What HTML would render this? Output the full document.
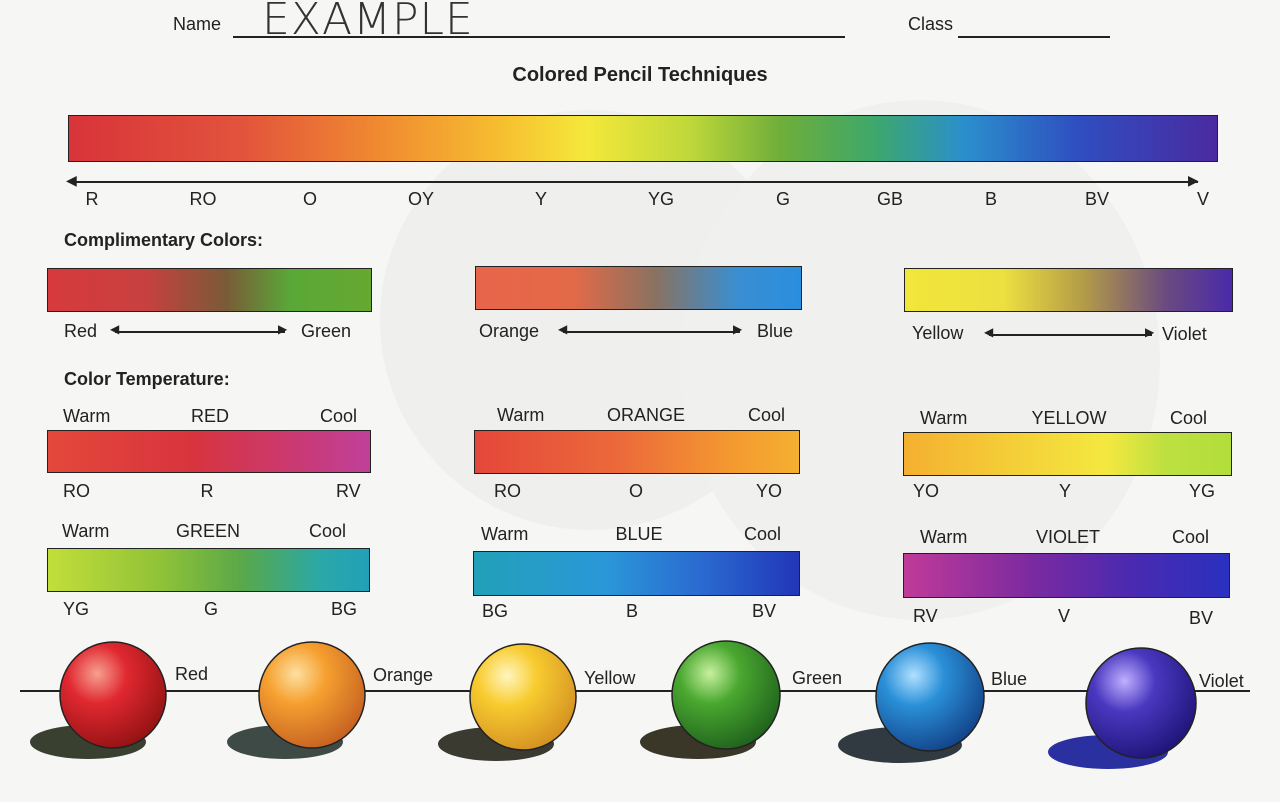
<!DOCTYPE html>
<html><head><meta charset="utf-8"><style>
body{margin:0;width:1280px;height:802px;background:#f6f6f5;position:relative;overflow:hidden;font-family:"Liberation Sans",sans-serif;color:#222}
.t{position:absolute;font-size:18px;white-space:nowrap}
.b{font-weight:bold}
.bar{position:absolute;border:1.5px solid #222;box-sizing:border-box}
.ln{position:absolute;background:#222;height:1.5px}
.c{transform:translateX(-50%)}
</style></head><body>
<div style="position:absolute;left:380px;top:110px;width:420px;height:420px;border-radius:50%;background:#efefee"></div>
<div style="position:absolute;left:680px;top:100px;width:480px;height:520px;border-radius:50%;background:#f0f0ef"></div>

<div class="t" style="left:173px;top:14px">Name</div>
<div class="ln" style="left:233px;top:36px;width:612px"></div>
<div class="t" style="left:262px;top:-6px;font-size:44px;font-family:'DejaVu Sans',sans-serif;font-weight:200;letter-spacing:1px;color:#333">EXAMPLE</div>
<div class="t" style="left:908px;top:14px">Class</div>
<div class="ln" style="left:958px;top:36px;width:152px"></div>
<div class="t b c" style="left:640px;top:64px;font-size:20px">Colored Pencil Techniques</div>

<div class="bar" style="left:68px;top:115px;width:1150px;height:47px;background:linear-gradient(90deg,#d8343a 0%,#e2533c 15%,#f08a30 27%,#f6c030 38%,#f5e83a 45%,#bfd83a 54%,#6fae3a 62%,#3ea86a 70%,#2a8fcc 78%,#2f4ec0 88%,#4a2aa0 100%)"></div>
<div class="ln" style="left:72px;top:181px;width:1126px"></div>
<div class="t" style="left:66px;top:172px;font-size:14px">◀</div>
<div class="t" style="left:1188px;top:172px;font-size:14px">▶</div>
<div class="t c" style="left:92px;top:189px">R</div>
<div class="t c" style="left:203px;top:189px">RO</div>
<div class="t c" style="left:310px;top:189px">O</div>
<div class="t c" style="left:421px;top:189px">OY</div>
<div class="t c" style="left:541px;top:189px">Y</div>
<div class="t c" style="left:661px;top:189px">YG</div>
<div class="t c" style="left:783px;top:189px">G</div>
<div class="t c" style="left:890px;top:189px">GB</div>
<div class="t c" style="left:991px;top:189px">B</div>
<div class="t c" style="left:1097px;top:189px">BV</div>
<div class="t c" style="left:1203px;top:189px">V</div>

<div class="t b" style="left:64px;top:230px">Complimentary Colors:</div>
<div class="bar" style="left:47px;top:268px;width:325px;height:44px;background:linear-gradient(90deg,#d73a3c,#c84040 30%,#7a5a38 55%,#5aa838 75%,#66a830)"></div>
<div class="bar" style="left:475px;top:266px;width:327px;height:44px;background:linear-gradient(90deg,#e8644a,#e26a48 30%,#8a7260 55%,#3a8ed0 80%,#2a8ee0)"></div>
<div class="bar" style="left:904px;top:268px;width:329px;height:44px;background:linear-gradient(90deg,#f2e63a,#ece040 30%,#b29a48 55%,#6a4a80 80%,#4a2aa8)"></div>
<div class="t" style="left:64px;top:321px">Red</div><div class="ln" style="left:115px;top:331px;width:170px"></div>
<div class="t" style="left:110px;top:322px;font-size:12px">◀</div><div class="t" style="left:278px;top:322px;font-size:12px">▶</div>
<div class="t" style="left:301px;top:321px">Green</div>
<div class="t" style="left:479px;top:321px">Orange</div><div class="ln" style="left:563px;top:331px;width:177px"></div>
<div class="t" style="left:558px;top:322px;font-size:12px">◀</div><div class="t" style="left:733px;top:322px;font-size:12px">▶</div>
<div class="t" style="left:757px;top:321px">Blue</div>
<div class="t" style="left:912px;top:323px">Yellow</div><div class="ln" style="left:989px;top:334px;width:163px"></div>
<div class="t" style="left:984px;top:325px;font-size:12px">◀</div><div class="t" style="left:1145px;top:325px;font-size:12px">▶</div>
<div class="t" style="left:1162px;top:324px">Violet</div>

<div class="t b" style="left:64px;top:369px">Color Temperature:</div>

<div class="t" style="left:63px;top:406px">Warm</div><div class="t c" style="left:210px;top:406px">RED</div><div class="t" style="left:320px;top:406px">Cool</div>
<div class="bar" style="left:47px;top:430px;width:324px;height:43px;background:linear-gradient(90deg,#e4483a,#d8343e 45%,#c83a78 80%,#c0409a)"></div>
<div class="t" style="left:63px;top:481px">RO</div><div class="t c" style="left:207px;top:481px">R</div><div class="t" style="left:336px;top:481px">RV</div>

<div class="t" style="left:497px;top:405px">Warm</div><div class="t c" style="left:646px;top:405px">ORANGE</div><div class="t" style="left:748px;top:405px">Cool</div>
<div class="bar" style="left:474px;top:430px;width:326px;height:44px;background:linear-gradient(90deg,#e4473a,#ec6a3a 45%,#f49a30 80%,#f4b030)"></div>
<div class="t" style="left:494px;top:481px">RO</div><div class="t c" style="left:636px;top:481px">O</div><div class="t" style="left:756px;top:481px">YO</div>

<div class="t" style="left:920px;top:408px">Warm</div><div class="t c" style="left:1069px;top:408px">YELLOW</div><div class="t" style="left:1170px;top:408px">Cool</div>
<div class="bar" style="left:903px;top:432px;width:329px;height:44px;background:linear-gradient(90deg,#f4b030,#f4d038 35%,#f4e840 62%,#bde040 80%,#b2de3a)"></div>
<div class="t" style="left:913px;top:481px">YO</div><div class="t c" style="left:1065px;top:481px">Y</div><div class="t" style="left:1189px;top:481px">YG</div>

<div class="t" style="left:62px;top:521px">Warm</div><div class="t c" style="left:208px;top:521px">GREEN</div><div class="t" style="left:309px;top:521px">Cool</div>
<div class="bar" style="left:47px;top:548px;width:323px;height:44px;background:linear-gradient(90deg,#c2de3a,#90c238 35%,#5aa848 60%,#2aa8a8 85%,#22a0b8)"></div>
<div class="t" style="left:63px;top:599px">YG</div><div class="t c" style="left:211px;top:599px">G</div><div class="t" style="left:331px;top:599px">BG</div>

<div class="t" style="left:481px;top:524px">Warm</div><div class="t c" style="left:639px;top:524px">BLUE</div><div class="t" style="left:744px;top:524px">Cool</div>
<div class="bar" style="left:473px;top:551px;width:327px;height:45px;background:linear-gradient(90deg,#22a0b8,#2a98d8 40%,#2a6ad0 70%,#2236b8)"></div>
<div class="t" style="left:482px;top:601px">BG</div><div class="t c" style="left:632px;top:601px">B</div><div class="t" style="left:752px;top:601px">BV</div>

<div class="t" style="left:920px;top:527px">Warm</div><div class="t c" style="left:1068px;top:527px">VIOLET</div><div class="t" style="left:1172px;top:527px">Cool</div>
<div class="bar" style="left:903px;top:553px;width:327px;height:45px;background:linear-gradient(90deg,#c03a98,#7a2aa0 40%,#4a2ab0 70%,#2a30c0)"></div>
<div class="t" style="left:913px;top:606px">RV</div><div class="t c" style="left:1064px;top:606px">V</div><div class="t" style="left:1189px;top:608px">BV</div>

<div class="ln" style="left:20px;top:690px;width:1230px"></div>
<svg width="1280" height="802" style="position:absolute;left:0;top:0">
<defs>
<radialGradient id="r" cx="0.35" cy="0.3" r="0.8"><stop offset="0" stop-color="#f7a090"/><stop offset="0.35" stop-color="#e02830"/><stop offset="1" stop-color="#8a1010"/></radialGradient>
<radialGradient id="o" cx="0.35" cy="0.3" r="0.8"><stop offset="0" stop-color="#fde0a0"/><stop offset="0.35" stop-color="#f6a030"/><stop offset="1" stop-color="#c05a20"/></radialGradient>
<radialGradient id="y" cx="0.35" cy="0.3" r="0.8"><stop offset="0" stop-color="#fff6c0"/><stop offset="0.35" stop-color="#f8cc30"/><stop offset="1" stop-color="#d08a20"/></radialGradient>
<radialGradient id="g" cx="0.35" cy="0.3" r="0.8"><stop offset="0" stop-color="#c8f0a0"/><stop offset="0.35" stop-color="#4aa830"/><stop offset="1" stop-color="#1a5a1a"/></radialGradient>
<radialGradient id="bl" cx="0.35" cy="0.3" r="0.8"><stop offset="0" stop-color="#b0e0ff"/><stop offset="0.35" stop-color="#2a90d8"/><stop offset="1" stop-color="#103a80"/></radialGradient>
<radialGradient id="v" cx="0.35" cy="0.3" r="0.8"><stop offset="0" stop-color="#c0b0ff"/><stop offset="0.35" stop-color="#4a38c0"/><stop offset="1" stop-color="#1a1070"/></radialGradient>
</defs>
<ellipse cx="88" cy="742" rx="58" ry="17" fill="#3a4030"/>
<ellipse cx="285" cy="742" rx="58" ry="17" fill="#3e4a46"/>
<ellipse cx="496" cy="744" rx="58" ry="17" fill="#3a3a30"/>
<ellipse cx="698" cy="742" rx="58" ry="17" fill="#3a3628"/>
<ellipse cx="900" cy="745" rx="62" ry="18" fill="#303a40"/>
<ellipse cx="1108" cy="752" rx="60" ry="17" fill="#2a30a0"/>
<circle cx="113" cy="695" r="53" fill="url(#r)" stroke="#222" stroke-width="1.5"/>
<circle cx="312" cy="695" r="53" fill="url(#o)" stroke="#222" stroke-width="1.5"/>
<circle cx="523" cy="697" r="53" fill="url(#y)" stroke="#222" stroke-width="1.5"/>
<circle cx="726" cy="695" r="54" fill="url(#g)" stroke="#222" stroke-width="1.5"/>
<circle cx="930" cy="697" r="54" fill="url(#bl)" stroke="#222" stroke-width="1.5"/>
<circle cx="1141" cy="703" r="55" fill="url(#v)" stroke="#222" stroke-width="1.5"/>
</svg>
<div class="t" style="left:175px;top:664px">Red</div>
<div class="t" style="left:373px;top:665px">Orange</div>
<div class="t" style="left:584px;top:668px">Yellow</div>
<div class="t" style="left:792px;top:668px">Green</div>
<div class="t" style="left:991px;top:669px">Blue</div>
<div class="t" style="left:1199px;top:671px">Violet</div>
</body></html>
